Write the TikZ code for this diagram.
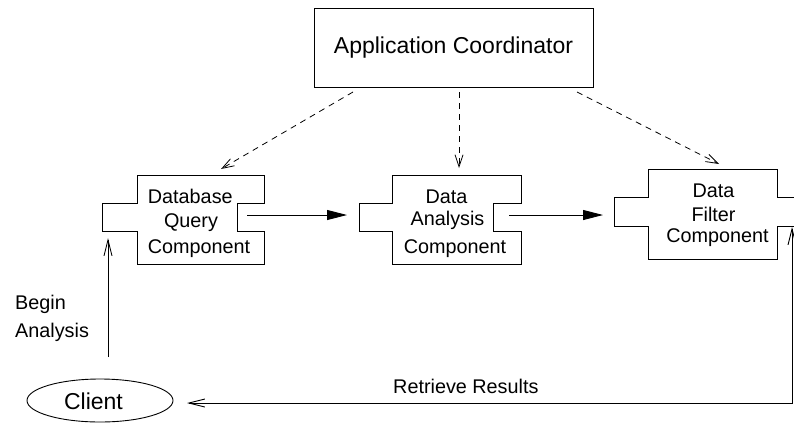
\documentclass[tikz,border=0pt]{standalone}
\usepackage{fontspec}
\setmainfont{Liberation Sans}
\usetikzlibrary{arrows.meta,shapes.geometric}

\tikzset{
  lbl/.style={inner sep=0pt, anchor=base, font=\fontsize{19.8}{24}\selectfont},
  lblw/.style={lbl, anchor=base west},
  bigbox/.style={draw, line width=0.9pt, inner sep=0pt, font=\fontsize{23}{28}\selectfont},
  body/.style={draw=none, inner sep=0pt},
  outline/.style={line width=0.9pt, line join=miter},
  dasharr/.style={line width=0.8pt, dash pattern=on 6pt off 5pt,
    -{Straight Barb[length=12pt,width=8pt,line width=0.8pt]}},
  solidarr/.style={line width=0.9pt, -{Triangle[length=20pt,width=10pt]}},
  openarr/.style={line width=0.9pt, -{Straight Barb[length=16pt,width=8pt,line width=0.9pt]}},
  twoarr/.style={line width=0.9pt,
    {Straight Barb[length=16pt,width=8pt,line width=0.9pt]}-{Straight Barb[length=16pt,width=8pt,line width=0.9pt]}}
}

\begin{document}
\begin{tikzpicture}[x=1pt, y=-1pt]
\useasboundingbox (0,0) rectangle (794,424);
\clip (0,0) rectangle (794,424);

% coordinator
\node[bigbox, minimum width=279pt, minimum height=79pt] (coord) at (453.5,47.5) {Application Coordinator};

% client
\node[draw, ellipse, line width=0.9pt, minimum width=146pt, minimum height=43pt, inner sep=0pt] (client) at (100,400.5) {};
\node[inner sep=0pt, anchor=base, font=\fontsize{23}{28}\selectfont] (clienttxt) at (93.5,409) {Client};

% component bodies
\node[body, minimum width=127pt, minimum height=89pt] (dbq) at (200.5,219.5) {};
\node[body, minimum width=129pt, minimum height=89pt] (ana) at (456.5,219.5) {};
\node[body, minimum width=129pt, minimum height=90pt] (flt) at (712.5,214) {};

% component outlines: body, left plug, right socket
\draw[outline] (137,175) -- (264,175) -- (264,203) -- (237,203) -- (237,231) -- (264,231)
  -- (264,264) -- (137,264) -- (137,231) -- (102,231) -- (102,203) -- (137,203) -- cycle;
\draw[outline] (392,175) -- (521,175) -- (521,203) -- (493,203) -- (493,231) -- (521,231)
  -- (521,264) -- (392,264) -- (392,231) -- (359,231) -- (359,203) -- (392,203) -- cycle;
\draw[outline] (800,226) -- (777,226) -- (777,259) -- (648,259) -- (648,226) -- (614,226)
  -- (614,197) -- (648,197) -- (648,169) -- (777,169) -- (777,197) -- (800,197) -- cycle;

% component labels
\node[lbl] (dbq1) at (190.3,203) {Database};
\node[lbl] (dbq2) at (191,227) {Query};
\node[lbl] (dbq3) at (199,253) {Component};
\node[lbl] (ana1) at (446.5,203) {Data};
\node[lbl] (ana2) at (447.5,225) {Analysis};
\node[lbl] (ana3) at (455,253) {Component};
\node[lbl] (flt1) at (713.5,197) {Data};
\node[lbl] (flt2) at (713.5,221) {Filter};
\node[lbl] (flt3) at (717.5,242) {Component};

% other labels
\node[lblw] (begin1) at (15,309) {Begin};
\node[lblw] (begin2) at (15,337) {Analysis};
\node[lblw] (retr) at (393,393) {Retrieve Results};

% connector end points
\coordinate (ac1) at (353,92);
\coordinate (ac2) at (459,92);
\coordinate (ac3) at (577,92);
\coordinate (in1) at (221,169);
\coordinate (in2) at (459,168);
\coordinate (in3) at (719,164);
\coordinate (dbqout) at (247,215);
\coordinate (anain) at (347,215);
\coordinate (anaout) at (509,215);
\coordinate (fltin) at (603,215);
\coordinate (clup) at (108,357);
\coordinate (dbqin) at (108,238);
\coordinate (clin) at (187,403);
\coordinate (corner) at (792,403);
\coordinate (fltout) at (792,227);

% dispatch from the coordinator
\draw[dasharr] (ac1) -- (in1);
\draw[dasharr] (ac2) -- (in2);
\draw[dasharr] (ac3) -- (in3);

% data flow between components
\draw[solidarr] (dbqout) -- (anain);
\draw[solidarr] (anaout) -- (fltin);

% client interaction
\draw[openarr] (clup) -- (dbqin);
\draw[twoarr] (clin) -- (corner) -- (fltout);
\end{tikzpicture}
\end{document}
